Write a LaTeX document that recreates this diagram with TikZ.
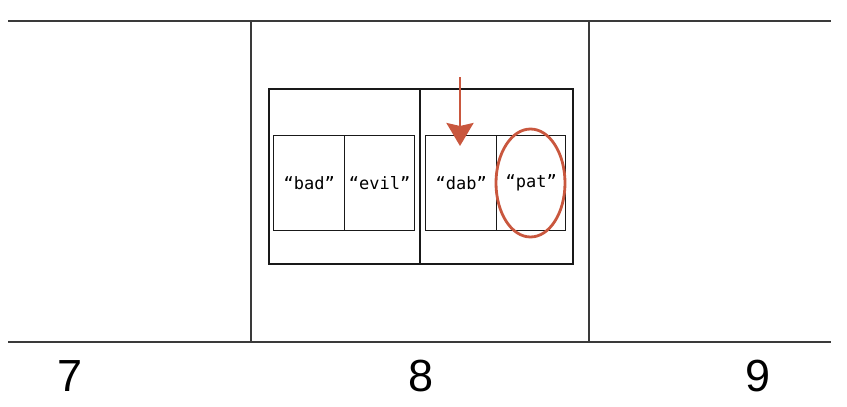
\documentclass[tikz,border=0pt]{standalone}
\usepackage{fontspec}
\setmainfont{Liberation Sans}
\setmonofont{DejaVu Sans Mono}
\usetikzlibrary{arrows.meta,shapes.geometric}
\definecolor{rust}{HTML}{C9573E}
\definecolor{ink}{HTML}{3A3A3A}
\tikzset{
  rule/.style={draw=ink, line width=1.8pt},
  divider/.style={draw=ink, line width=1.3pt},
  bucket/.style={draw=black!90, line width=1.6pt, rectangle, inner sep=0pt, anchor=north west},
  cell/.style={draw=black!90, line width=1.3pt, rectangle, inner sep=0pt, anchor=north west,
    font=\ttfamily\fontsize{17}{20}\selectfont},
  idx/.style={font=\fontsize{45}{50}\selectfont, text=black, inner sep=0pt},
  hl/.style={draw=rust, line width=2.8pt},
}
\begin{document}
\begin{tikzpicture}[x=1pt,y=-1pt]
\useasboundingbox (0,0) rectangle (847,407);
% rules
\coordinate (tl) at (8,21); \coordinate (tr) at (831,21);
\coordinate (bl) at (8,342); \coordinate (br) at (831,342);
\coordinate (v1t) at (251,21); \coordinate (v1b) at (251,342);
\coordinate (v2t) at (589,21); \coordinate (v2b) at (589,342);
\draw[rule] (tl) -- (tr);
\draw[rule] (bl) -- (br);
\draw[divider] (v1t) -- (v1b);
\draw[divider] (v2t) -- (v2b);
% index labels
\node[idx] (n7) at (70,376) {7};
\node[idx] (n8) at (421,376) {8};
\node[idx] (n9) at (758,376) {9};
% outer buckets
\node[bucket, minimum width=151, minimum height=175] (bk1) at (268,88) {};
\node[bucket, minimum width=153, minimum height=175] (bk2) at (419,88) {};
% cells
\node[cell, minimum width=71, minimum height=95] (bad) at (273,135) {“bad”};
\node[cell, minimum width=70, minimum height=95] (evil) at (344,135) {“evil”};
\node[cell, minimum width=71, minimum height=95] (dab) at (425,135) {“dab”};
\node[cell, minimum width=69, minimum height=95] (pat) at (496,135) {“pat”};
% highlight
\coordinate (astart) at (460,77);
\coordinate (aend) at (460,146);
\draw[hl, -{Stealth[width=27pt,length=23pt,inset=3pt]}] (astart) -- (aend);
\node[hl, ellipse, minimum width=69, minimum height=108, inner sep=0pt] (ring) at (530.5,183) {};
\end{tikzpicture}
\end{document}
